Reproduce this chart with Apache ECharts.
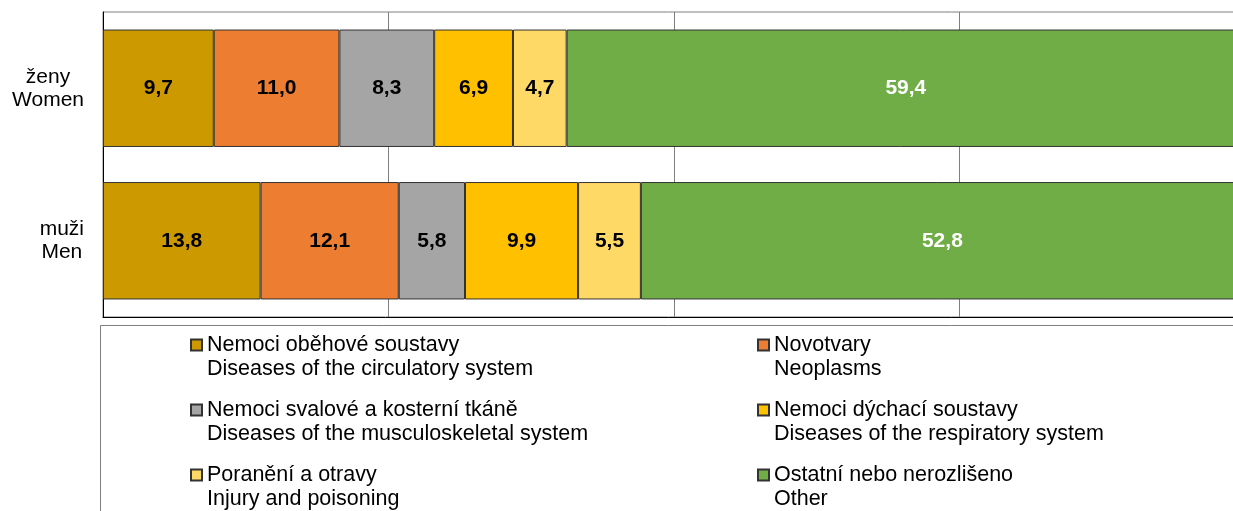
<!DOCTYPE html>
<html>
<head>
<meta charset="utf-8">
<script src="https://cdn.jsdelivr.net/npm/echarts@6/dist/echarts.min.js"></script>
<style>
  html, body { margin: 0; padding: 0; background: #fff; }
  #chart { width: 1233px; height: 511px; }
</style>
</head>
<body>
<div id="chart"></div>
<script>
// kategorie (ženy nahoře)
const categories = ["ženy\nWomen", "muži\nMen"];
const czNames = [
  "Nemoci oběhové soustavy",
  "Novotvary",
  "Nemoci svalové a kosterní tkáně",
  "Nemoci dýchací soustavy",
  "Poranění a otravy",
  "Ostatní nebo nerozlišeno",
];
const enNames = [
  "Diseases of the circulatory system",
  "Neoplasms",
  "Diseases of the musculoskeletal system",
  "Diseases of the respiratory system",
  "Injury and poisoning",
  "Other",
];
// hodnoty v %, pořadí [ženy, muži]
const circulatory = [9.7, 13.8];
const neoplasms = [11.0, 12.1];
const musculoskeletal = [8.3, 5.8];
const respiratory = [6.9, 9.9];
const injury = [4.7, 5.5];
const other = [59.4, 52.8];
const xTicks = [0, 25, 50, 75, 100];

const seriesData = [circulatory, neoplasms, musculoskeletal, respiratory, injury, other];
const colors = ["#CC9A00", "#ED7D31", "#A5A5A5", "#FFC000", "#FFD966", "#70AD47"];
const labelColors = ["#000", "#000", "#000", "#000", "#000", "#fff"];
const font = "'Liberation Sans', Arial, sans-serif";

const myChart = echarts.init(document.getElementById("chart"));

// prázdný první řádek -> ikonka vychází na český název
const legendItem = {
  orient: "vertical",
  top: 309,
  padding: 0,
  itemGap: -7,
  itemWidth: 11,
  itemHeight: 11,
  icon: "rect",
  selectedMode: false,
  formatter: (name) => "\n" + name + "\n" + enNames[czNames.indexOf(name)],
  textStyle: {
    fontFamily: font,
    fontSize: 21.5,
    lineHeight: 24,
    color: "#000",
  },
};

const options = {
  animation: false,
  graphic: [
    {
      type: "rect",
      shape: { x: 100.5, y: 325.5, width: 1200, height: 300 },
      style: { fill: "none", stroke: "#7f7f7f", lineWidth: 1 },
      silent: true,
    },
  ],
  legend: [
    Object.assign({}, legendItem, { left: 190, data: [czNames[0], czNames[2], czNames[4]] }),
    Object.assign({}, legendItem, { left: 757, data: [czNames[1], czNames[3], czNames[5]] }),
  ],
  grid: {
    left: 103,
    top: 12,
    width: 1142,
    height: 305,
    outerBoundsMode: "none",
    containLabel: false,
    show: true,
    borderColor: "#7f7f7f",
    borderWidth: 1,
  },
  xAxis: {
    type: "value",
    min: xTicks[0],
    max: xTicks[xTicks.length - 1],
    interval: xTicks[1] - xTicks[0],
    axisLabel: { show: false },
    axisTick: { show: false },
    axisLine: { show: true, lineStyle: { color: "#000", width: 1 } },
    splitLine: { show: true, lineStyle: { color: "#7f7f7f", width: 1 } },
  },
  yAxis: {
    type: "category",
    inverse: true,
    data: categories,
    axisTick: { show: false },
    axisLine: { show: true, lineStyle: { color: "#000", width: 1 } },
    axisLabel: {
      margin: 19,
      align: "right",
      fontFamily: font,
      fontSize: 21,
      lineHeight: 23,
      color: "#000",
      formatter: (v) => v.split("\n").map((s) => "{c|" + s + "}").join("\n"),
      rich: {
        c: { align: "center", fontFamily: font, fontSize: 21, lineHeight: 23, color: "#000" },
      },
    },
  },
  series: seriesData.map((d, i) => ({
    name: czNames[i],
    type: "bar",
    stack: "total",
    barCategoryGap: "23%",
    data: d,
    itemStyle: { color: colors[i], borderColor: "#333", borderWidth: 1 },
    label: {
      show: true,
      position: "inside",
      fontFamily: font,
      fontSize: 21,
      fontWeight: "bold",
      color: labelColors[i],
      formatter: (p) => p.value.toFixed(1).replace(".", ","),
    },
  })),
};

options && myChart.setOption(options);
</script>
</body>
</html>
